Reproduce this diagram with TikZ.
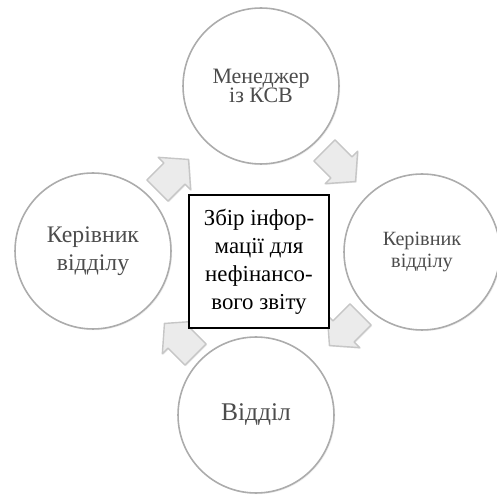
\documentclass[tikz,border=0pt]{standalone}
\usepackage{fontspec}
\setmainfont{Liberation Serif}
\usetikzlibrary{shadows}

\tikzset{
  roundbox/.style={circle, draw=gray!65, line width=0.9pt, fill=white,
    minimum size=3.12cm, inner sep=0pt, align=center, text=black!70,
    drop shadow={opacity=0.12, shadow xshift=0.7pt, shadow yshift=-0.7pt}},
  arrowfill/.style={draw=gray!45, line width=0.8pt, fill=gray!16, line join=round,
    drop shadow={opacity=0.15, shadow xshift=0.6pt, shadow yshift=-0.6pt}},
  cyclearrow/.pic={
    \path[arrowfill] (-22,-15) -- (2,-15) -- (2,-23) -- (22,0) -- (2,23)
      -- (2,15) -- (-22,15) -- cycle;
  },
  infobox/.style={draw=black, line width=0.6pt, fill=white,
    minimum width=2.8cm, minimum height=2.66cm, align=center,
    font=\fontsize{13}{15.9}\selectfont}
}

\begin{document}
\begin{tikzpicture}[x=0.02cm,y=-0.02cm]
  \useasboundingbox (0,0) rectangle (497,496);

  % circles round the centre
  \node[roundbox, font=\fontsize{12.5}{11}\selectfont] (manager) at (261,86) {Менеджер\\із КСВ};
  \node[roundbox, font=\fontsize{11.5}{13}\selectfont] (headright) at (422,252) {Керівник\\відділу};
  \node[roundbox, font=\fontsize{14.5}{16}\selectfont] (dept) at (256,415) {Відділ};
  \node[roundbox, font=\fontsize{13.5}{16}\selectfont] (headleft) at (93,251) {Керівник\\відділу};

  % arrows, clockwise
  \pic[rotate=45] (arrtl) at (173,175) {cyclearrow};
  \pic[rotate=-45] (arrtr) at (340,166) {cyclearrow};
  \pic[rotate=-135] (arrbr) at (345,330) {cyclearrow};
  \pic[rotate=135] (arrbl) at (180,339) {cyclearrow};

  \node[infobox] (info) at (259,261.5) {Збір інфор-\\мації для\\нефінансо-\\вого звіту};

\end{tikzpicture}
\end{document}
